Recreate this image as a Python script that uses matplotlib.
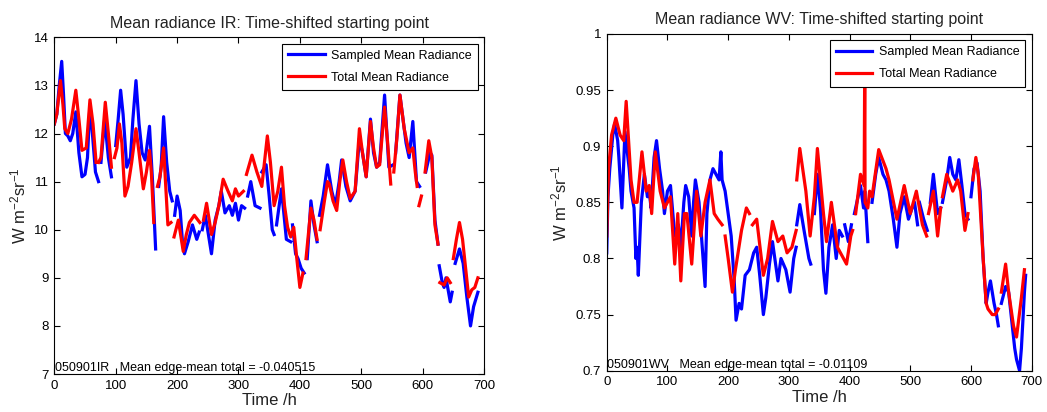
import matplotlib

matplotlib.use('agg')
import numpy as np
import matplotlib.pyplot as plt
from matplotlib.ticker import FuncFormatter

nan = np.nan

# IR channel, hours / radiance (nan = gap in the record)
ir_total_h = [0, 4, 10, 14, 17, 22, 28, 35, 40, 45, 52, 58, 63, 68, nan, 72, 76, 83, 88, 93, nan,
              98, 102, 106, 110, 115, 120, 126, 133, 138, 145, 150, 155, 158, 162, nan,
              168, 172, 178, 182, 185, 190, nan, 195, 202, 210, 215, 220, 228, 237, nan,
              243, 248, 256, 262, 268, 275, 283, 290, 295, 300, 308, nan,
              313, 322, 330, 338, 347, 352, 358, 364, 370, 375, 380, 385, 390, 395, 400, 405, nan,
              410, 418, 423, 428, nan, 433, 440, 445, 448, 454, 460, 465, 470, 476, 482, 490, 497,
              502, 508, 515, 520, 525, 530, 538, 543, 548, nan, 553, 558, 563, 570, 578, 584, 588, 591, nan,
              594, 598, nan, 604, 610, 615, 620, 625, nan, 628, 635, 640, 645, nan,
              650, 655, 660, 665, 670, 675, 680, 685, 690]
ir_total_v = [12.2, 12.4, 13.1, 12.6, 12.1, 12.0, 12.3, 12.9, 12.3, 11.65, 11.7, 12.7, 12.2, 11.4, nan,
              11.4, 11.5, 12.65, 12.0, 11.3, nan,
              11.5, 11.7, 12.2, 11.8, 10.7, 10.9, 11.4, 12.1, 11.6, 10.85, 11.2, 11.65, 11.2, 10.15, nan,
              10.9, 11.1, 11.7, 10.8, 10.1, 10.15, nan, 9.85, 10.2, 9.55, 9.9, 10.15, 10.3, 10.15, nan,
              10.2, 10.55, 9.9, 10.15, 10.5, 11.05, 10.8, 10.6, 10.85, 10.7, 10.8, nan,
              11.15, 11.55, 11.2, 10.9, 11.95, 11.4, 10.5, 10.8, 11.3, 10.5, 10.05, 9.85, 10.05, 9.4, 8.8, 9.1, nan,
              9.4, 10.45, 10.2, 9.8, nan, 10.0, 10.6, 11.0, 10.95, 10.6, 10.4, 11.0, 11.45, 11.0, 10.65, 10.8, 12.1,
              11.6, 11.1, 12.25, 11.7, 11.3, 11.35, 12.55, 11.8, 10.95, nan, 11.2, 11.9, 12.8, 12.1, 11.6, 11.7, 11.2, 10.9, nan,
              10.5, 10.7, nan, 11.2, 11.85, 11.5, 10.1, 9.7, nan, 8.9, 8.85, 9.0, 8.9, nan,
              9.4, 9.8, 10.15, 9.8, 9.2, 8.6, 8.75, 8.8, 9.0]

ir_sampled_h = [0, 4, 8, 12, 15, 18, 22, 26, 30, 35, 40, 45, 50, 54, 58, 62, 67, 72, nan,
                76, 82, 88, 93, nan, 100, 104, 108, 112, 118, 124, 128, 133, 138, 143, 148, 155, 160, 165, nan,
                170, 174, 178, 183, 188, 192, nan, 196, 200, 205, 209, 212, 218, 225, 232, 236, nan,
                241, 246, 251, 256, 262, 268, 272, 278, 285, 290, 295, 300, 305, 310, nan,
                315, 320, 327, 335, nan, 338, 345, 350, 355, 358, nan, 362, 370, 375, 378, 385, nan,
                388, 393, 397, 402, 407, nan, 412, 418, 423, 428, nan,
                432, 438, 445, 452, 458, 464, 468, 475, 482, 490, 497, 502, 508, 515, 520, 525, 530, 538, 545, 552, nan,
                556, 563, 568, 573, 578, 584, 590, 595, nan, 605, 612, 615, 620, 625, nan,
                627, 632, 635, 638, 645, 648, nan, 653, 660, 666, 672, 678, 683, 690]
ir_sampled_v = [12.2, 12.4, 13.0, 13.5, 12.8, 12.0, 11.95, 11.85, 12.0, 12.45, 11.6, 11.1, 11.15, 11.5, 12.6, 12.0, 11.2, 11.0, nan,
                11.4, 12.3, 11.5, 11.1, nan, 11.75, 12.3, 12.9, 12.4, 11.3, 11.5, 12.3, 13.1, 12.2, 11.6, 11.45, 12.15, 11.0, 9.6, nan,
                10.9, 11.3, 12.35, 11.4, 10.8, 10.6, nan, 10.3, 10.7, 10.4, 9.7, 9.5, 9.75, 10.1, 9.8, 9.95, nan,
                10.0, 10.3, 9.9, 9.5, 10.2, 10.5, 10.8, 10.35, 10.5, 10.3, 10.55, 10.2, 10.5, 10.45, nan,
                10.7, 11.0, 10.5, 10.45, nan, 11.2, 11.35, 10.7, 10.0, 9.9, nan, 10.1, 10.85, 10.2, 9.8, 9.75, nan,
                10.1, 9.5, 9.4, 9.2, 9.1, nan, 9.4, 10.6, 10.1, 9.75, nan,
                10.3, 10.7, 11.35, 10.8, 10.5, 11.0, 11.45, 10.9, 10.6, 10.8, 11.9, 11.6, 11.1, 12.3, 11.6, 11.3, 11.4, 12.8, 11.3, 11.35, nan,
                11.6, 12.8, 12.3, 11.8, 11.5, 12.25, 11.0, 10.9, nan, 11.2, 11.6, 11.55, 10.2, 9.7, nan,
                9.25, 8.9, 8.8, 9.0, 8.5, 8.7, nan, 9.3, 9.6, 9.3, 8.6, 8.0, 8.4, 8.7]

# WV channel
wv_total_h = [0, 3, 8, 15, 22, 28, 32, 40, 45, 50, 58, 65, 70, 74, 80, 88, 95, 100, 105, 112, 117, 122, 128, 132,
              140, 148, 155, 162, 170, 177, 183, 190, nan, 195, 200, 207, 212, 222, 230, 235, nan,
              240, 247, 258, 265, 273, 282, 290, 297, 305, 312, nan, 313, 318, 328, 335, 342, 347, 357, 362, 370,
              380, 395, 402, 405, nan, 410, 418, 424, 425, 425.5, 430, 433, 437, 448, 460, 465, 478, 490, 500, 510,
              520, 527, nan, 530, 538, 545, 550, nan, 553, 560, 570, 578, 583, 590, 595, nan,
              603, 608, 612, 620, 625, 628, 635, 640, 645, nan, 650, 657, 662, 670, 675, 683, 688]
wv_total_v = [0.82, 0.88, 0.91, 0.925, 0.91, 0.905, 0.94, 0.87, 0.85, 0.85, 0.895, 0.86, 0.865, 0.84, 0.895, 0.86, 0.845, 0.85,
              0.855, 0.795, 0.84, 0.78, 0.84, 0.84,
              0.795, 0.86, 0.82, 0.85, 0.87, 0.84, 0.835, 0.83, nan, 0.82, 0.8, 0.77, 0.79, 0.825, 0.845, 0.84, nan,
              0.83, 0.835, 0.785, 0.8, 0.833, 0.815, 0.82, 0.805, 0.81, 0.825, nan, 0.87, 0.898, 0.86, 0.82, 0.855, 0.898,
              0.84, 0.815, 0.85,
              0.81, 0.795, 0.82, 0.825, nan, 0.84, 0.875, 0.865, 0.98, 0.85, 0.845, 0.86, 0.855, 0.897, 0.88, 0.87, 0.835,
              0.865, 0.84, 0.86,
              0.83, 0.82, nan, 0.84, 0.86, 0.82, 0.845, nan, 0.855, 0.875, 0.86, 0.87, 0.86, 0.825, 0.84, nan,
              0.87, 0.89, 0.875, 0.8, 0.76, 0.755, 0.75, 0.75, 0.755, nan, 0.77, 0.795, 0.77, 0.74, 0.73, 0.765, 0.79]

wv_sampled_h = [0, 2, 5, 10, 13, 18, 20, 25, 30, 37, 40, 45, 48, 50, 52, 57, 62, 67, 70, 73, 78, 82, 87, 92, 95,
                100, 105, 112, 118, 122, 127, 130, 135, 140, 143, 146, 152, 162, 165, 170, 175, 180, 185, 188, 190,
                195, 200, 205, 210, 213, 218, 222, 228, 235, 242, 247, 252, 258, 262, 268, 273, 282, 287, 295, 302,
                308, 312, nan, 313, 318, 325, 333, 336, nan, 342, 347, 352, 357, 361, 366, 372, 378, 383, 388, nan,
                392, 398, 403, nan, 408, 418, 423, 425, 430, nan, 437, 443, 448, 455, 460, 465, 472, 478, 483, 490,
                497, 503, 507, 512, nan, 515, 522, 528, nan, 533, 538, 545, 550, nan, 553, 560, 565, 570, 575, 580,
                585, 590, 595, nan, 600, 605, 610, 615, 620, 625, 628, 632, 638, 642, 645, nan,
                650, 657, 662, 667, 672, 675, 680, 683, 688, 690]
wv_sampled_v = [0.805, 0.855, 0.88, 0.91, 0.92, 0.905, 0.89, 0.845, 0.913, 0.88, 0.86, 0.845, 0.8, 0.81, 0.785, 0.85, 0.875,
                0.855, 0.86, 0.845, 0.89, 0.905, 0.88, 0.86, 0.84,
                0.86, 0.865, 0.82, 0.83, 0.81, 0.85, 0.865, 0.855, 0.82, 0.85, 0.87, 0.85, 0.775, 0.84, 0.87, 0.88,
                0.875, 0.87, 0.895, 0.87,
                0.86, 0.84, 0.82, 0.78, 0.745, 0.76, 0.755, 0.785, 0.79, 0.805, 0.81, 0.785, 0.75, 0.765, 0.795, 0.815,
                0.78, 0.8, 0.79, 0.77,
                0.8, 0.81, nan, 0.83, 0.848, 0.825, 0.8, 0.795, nan, 0.84, 0.875, 0.845, 0.79, 0.769, 0.81, 0.83, 0.8,
                0.825, 0.82, nan,
                0.83, 0.815, 0.83, nan, 0.84, 0.865, 0.845, 0.86, 0.815, nan, 0.85, 0.875, 0.89, 0.875, 0.87, 0.86,
                0.835, 0.81, 0.84, 0.855,
                0.835, 0.845, 0.85, 0.83, nan, 0.85, 0.835, 0.825, nan, 0.85, 0.875, 0.84, 0.845, nan, 0.85, 0.87, 0.89,
                0.875, 0.87, 0.888,
                0.865, 0.84, 0.835, nan, 0.855, 0.88, 0.885, 0.86, 0.8, 0.76, 0.77, 0.78, 0.76, 0.75, 0.74, nan,
                0.76, 0.775, 0.77, 0.745, 0.72, 0.71, 0.7, 0.72, 0.77, 0.785]

panels = [
    dict(title='Mean radiance IR: Time-shifted starting point',
         total=(ir_total_h, ir_total_v), sampled=(ir_sampled_h, ir_sampled_v),
         ylim=(7, 14), yticks=np.arange(7, 15, 1),
         note='050901IR   Mean edge-mean total = -0.040515',
         rect=[0.0519, 0.0922, 0.4104, 0.8172]),
    dict(title='Mean radiance WV: Time-shifted starting point',
         total=(wv_total_h, wv_total_v), sampled=(wv_sampled_h, wv_sampled_v),
         ylim=(0.7, 1.0), yticks=np.arange(0.7, 1.001, 0.05),
         note='050901WV   Mean edge-mean total = -0.01109',
         rect=[0.5795, 0.1002, 0.4059, 0.8173]),
]

plt.rcParams['font.family'] = ['Liberation Sans', 'DejaVu Sans']
plt.rcParams['mathtext.fontset'] = 'custom'
plt.rcParams['mathtext.rm'] = 'Liberation Sans'
plt.rcParams['mathtext.it'] = 'Liberation Sans'

fig = plt.figure(figsize=(10.47, 4.12), dpi=100)

for p in panels:
    ax = fig.add_axes(p['rect'])
    ax.plot(*p['sampled'], color='#0000ff', lw=2.3, label='Sampled Mean Radiance')
    ax.plot(*p['total'], color='#ff0000', lw=2.3, label='Total Mean Radiance')
    ax.set_xlim(0, 700)
    ax.set_ylim(*p['ylim'])
    ax.set_xticks(np.arange(0, 701, 100))
    ax.set_yticks(p['yticks'])
    ax.yaxis.set_major_formatter(FuncFormatter(lambda v, pos: f'{v:.2f}'.rstrip('0').rstrip('.')))
    ax.tick_params(direction='in', top=True, right=True, length=4, width=0.8, labelsize=9.5, pad=4)
    for s in ax.spines.values():
        s.set_linewidth(0.8)
    ax.set_title(p['title'], fontsize=11.5, color='#222222', pad=7)
    ax.set_xlabel('Time /h', fontsize=12, color='#222222', labelpad=1)
    ax.set_ylabel('W m$^{-2}$sr$^{-1}$', fontsize=12, color='#222222')
    ax.text(1, p['ylim'][0], p['note'], fontsize=9, va='bottom', ha='left')
    leg = ax.legend(loc='upper right', fontsize=9, fancybox=False, framealpha=1,
                    edgecolor='black', borderaxespad=0.5, handlelength=2.9,
                    handletextpad=0.5, labelspacing=0.8, borderpad=0.5)
    leg.get_frame().set_linewidth(0.8)

fig.savefig('out.png', dpi=100)
